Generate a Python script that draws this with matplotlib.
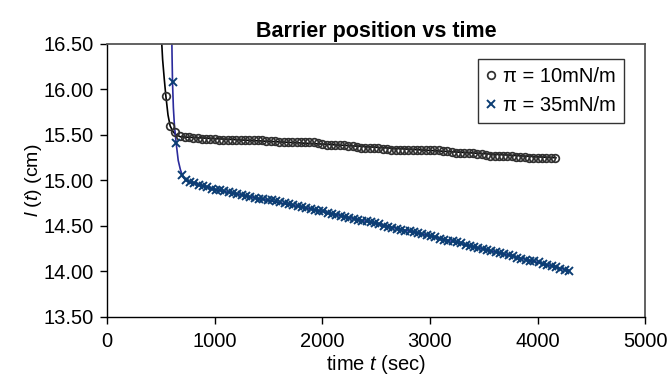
import matplotlib
matplotlib.use("Agg")
import matplotlib.pyplot as plt

plt.rcParams["font.family"] = ["Liberation Sans", "DejaVu Sans"]
plt.rcParams["mathtext.fontset"] = "custom"
plt.rcParams["mathtext.rm"] = "Liberation Sans"
plt.rcParams["mathtext.it"] = "Liberation Sans:italic"

# pi = 10 mN/m : measured barrier position (circles)
t_10 = [545, 585, 632,
        680, 720, 760, 800, 840, 880, 920, 960, 1000, 1040,
        1080, 1120, 1160, 1200, 1240, 1280, 1320, 1360, 1400, 1440,
        1480, 1520, 1560, 1600, 1640, 1680, 1720, 1760, 1800, 1840,
        1880, 1920, 1960, 2000, 2040, 2080, 2120, 2160, 2200, 2240,
        2280, 2320, 2360, 2400, 2440, 2480, 2520, 2560, 2600, 2640,
        2680, 2720, 2760, 2800, 2840, 2880, 2920, 2960, 3000, 3040,
        3080, 3120, 3160, 3200, 3240, 3280, 3320, 3360, 3400, 3440,
        3480, 3520, 3560, 3600, 3640, 3680, 3720, 3760, 3800, 3840,
        3880, 3920, 3960, 4000, 4040, 4080, 4120, 4160]
l_10 = [15.93, 15.595, 15.53,
        15.49, 15.48, 15.48, 15.47, 15.47, 15.46, 15.46, 15.46, 15.46, 15.45,
        15.45, 15.45, 15.45, 15.44, 15.44, 15.44, 15.44, 15.44, 15.44, 15.44,
        15.43, 15.43, 15.43, 15.42, 15.42, 15.42, 15.42, 15.42, 15.42, 15.42,
        15.42, 15.42, 15.41, 15.40, 15.39, 15.39, 15.39, 15.39, 15.39, 15.38,
        15.38, 15.37, 15.36, 15.36, 15.36, 15.36, 15.36, 15.35, 15.35, 15.34,
        15.34, 15.34, 15.34, 15.34, 15.34, 15.34, 15.34, 15.33, 15.33, 15.33,
        15.33, 15.32, 15.32, 15.31, 15.30, 15.30, 15.30, 15.30, 15.30, 15.29,
        15.29, 15.28, 15.27, 15.27, 15.27, 15.27, 15.27, 15.27, 15.26, 15.26,
        15.26, 15.25, 15.25, 15.25, 15.25, 15.25, 15.25, 15.25]

# pi = 35 mN/m : measured barrier position (crosses)
t_35 = [607, 644, 694,
        730, 770, 810, 850, 890, 930, 970, 1010,
        1050, 1090, 1130, 1170, 1210, 1250, 1290, 1330, 1370, 1410,
        1450, 1490, 1530, 1570, 1610, 1650, 1690, 1730, 1770, 1810,
        1850, 1890, 1930, 1970, 2010,
        2050, 2090, 2130, 2170, 2210, 2250, 2290, 2330, 2370, 2410,
        2450, 2490, 2530, 2570, 2610, 2650, 2690, 2730, 2770, 2810,
        2850, 2890, 2930, 2970, 3010,
        3050, 3090, 3130, 3170, 3210, 3250, 3290, 3330, 3370, 3410,
        3450, 3490, 3530, 3570, 3610, 3650, 3690, 3730, 3770, 3810,
        3850, 3890, 3930, 3970, 4010, 4050, 4090, 4130, 4170, 4210,
        4250, 4290]
l_35 = [16.08, 15.41, 15.06,
        15.00, 14.98, 14.97, 14.95, 14.94, 14.93, 14.91, 14.90,
        14.89, 14.88, 14.87, 14.86, 14.85, 14.84, 14.83, 14.82, 14.81, 14.80,
        14.80, 14.79, 14.78, 14.77, 14.76, 14.75, 14.74, 14.73, 14.72, 14.71,
        14.70, 14.69, 14.68, 14.67, 14.66,
        14.64, 14.63, 14.62, 14.61, 14.60, 14.59, 14.58, 14.57, 14.56, 14.55,
        14.54, 14.53, 14.52, 14.50, 14.49, 14.48, 14.47, 14.46, 14.45, 14.44,
        14.43, 14.42, 14.41, 14.40, 14.39,
        14.38, 14.36, 14.35, 14.34, 14.33, 14.32, 14.31, 14.29, 14.28, 14.27,
        14.26, 14.25, 14.24, 14.22, 14.21, 14.20, 14.19, 14.18, 14.17, 14.15,
        14.14, 14.13, 14.12, 14.11, 14.10, 14.08, 14.07, 14.06, 14.05, 14.03,
        14.02, 14.01]

# fitted curves
fit_t_10 = [498, 505, 515, 530, 545, 565, 585, 610, 632, 680, 1000, 2000, 3000, 4000, 4170]
fit_l_10 = [16.9, 16.55, 16.33, 16.12, 15.93, 15.72, 15.60, 15.54, 15.51, 15.48,
            15.46, 15.40, 15.33, 15.26, 15.25]
fit_t_35 = [597, 600, 603, 607, 615, 625, 641, 660, 680, 700, 730, 1000, 2000, 3000, 4000, 4290]
fit_l_35 = [16.9, 16.6, 16.35, 16.08, 15.80, 15.60, 15.41, 15.22, 15.12, 15.05, 15.00,
            14.90, 14.66, 14.39, 14.10, 14.01]

x_ticks = [0, 1000, 2000, 3000, 4000, 5000]
y_ticks = [13.5, 14.0, 14.5, 15.0, 15.5, 16.0, 16.5]

fig = plt.figure(figsize=(6.7, 3.76), dpi=100)
ax = fig.add_axes([0.160, 0.157, 0.803, 0.726])

ax.plot(fit_t_10, fit_l_10, color="black", lw=1.2, zorder=2)
ax.plot(fit_t_35, fit_l_35, color="#2b2b9c", lw=1.2, zorder=2)
ax.plot(t_10, l_10, linestyle="none", marker="o", markersize=5.5, fillstyle="none",
        markeredgecolor="#303030", markeredgewidth=1.25, label="π = 10mN/m", zorder=3)
ax.plot(t_35, l_35, linestyle="none", marker="x", markersize=6,
        markeredgecolor="#0b3d73", markeredgewidth=1.4, label="π = 35mN/m", zorder=3)

ax.set_xlim(0, 5000)
ax.set_ylim(13.5, 16.5)
ax.set_xticks(x_ticks)
ax.set_yticks(y_ticks)
ax.set_yticklabels(["%.2f" % v for v in y_ticks])
ax.tick_params(axis="both", labelsize=14.5, width=1, color="black")
ax.tick_params(axis="x", direction="out", length=5, pad=6)
ax.tick_params(axis="y", direction="out", length=5, pad=5)

for side in ["left", "bottom"]:
    ax.spines[side].set_color("black")
    ax.spines[side].set_linewidth(1.0)
for side in ["top", "right"]:
    ax.spines[side].set_color("#555555")
    ax.spines[side].set_linewidth(1.3)

ax.set_title("Barrier position vs time", fontsize=15.5, fontweight="bold", pad=5)
ax.set_xlabel("time $t$ (sec)", fontsize=14.5, labelpad=1)
ax.set_ylabel("$l$ ($t$) (cm)", fontsize=14, labelpad=-1)

leg = ax.legend(loc="upper right", bbox_to_anchor=(0.961, 0.945), fontsize=14.5,
                frameon=True, fancybox=False, handlelength=0.5, handletextpad=0.35,
                borderpad=0.4, labelspacing=0.5, borderaxespad=0)
leg.get_frame().set_edgecolor("black")
leg.get_frame().set_linewidth(1.0)

fig.savefig("out.png", dpi=100)
